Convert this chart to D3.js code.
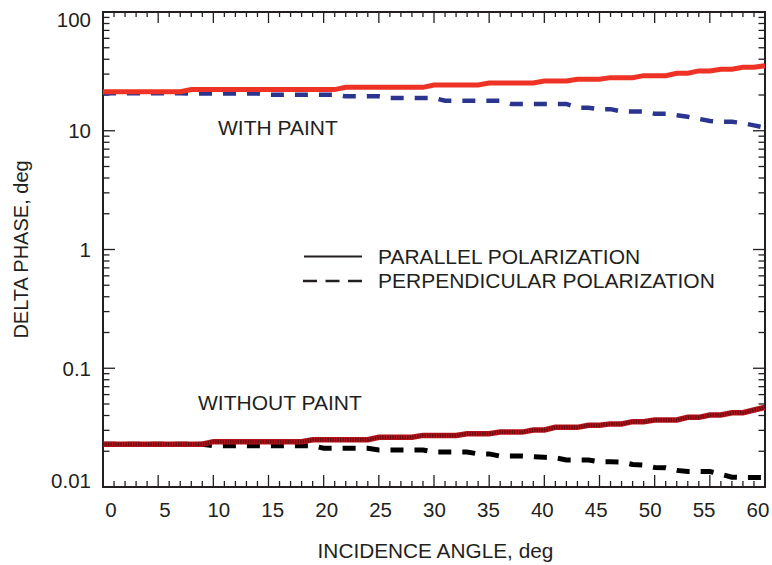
<!DOCTYPE html>
<html>
<head>
<meta charset="utf-8">
<script src="https://cdn.jsdelivr.net/npm/d3@7"></script>
<style>
  html, body { margin: 0; padding: 0; background: #fff; }
  svg { display: block; font-family: "Liberation Sans", Arial, Helvetica, sans-serif; }
</style>
</head>
<body>
<svg id="chart" width="772" height="565"></svg>
<script>
// ---------- data ----------
const angles = [0,1,2,3,4,5,6,7,8,9,10,11,12,13,14,15,16,17,18,19,20,21,22,23,24,25,26,27,28,29,30,
  31,32,33,34,35,36,37,38,39,40,41,42,43,44,45,46,47,48,49,50,51,52,53,54,55,56,57,58,59,60];

// WITH PAINT
const parallelPaint = [21.3,21.3,21.3,21.3,21.3,21.3,21.3,21.3,
  22.2,22.2,22.2,22.2,22.2,22.2,22.2,22.2,22.2,22.2,22.2,22.2,22.2,22.2,
  23.2,23.2,23.2,23.2,23.2,23.2,23.2,23.2,
  24.3,24.3,24.3,24.3,24.3,
  25.2,25.2,25.2,25.2,25.2,
  26.2,26.2,26.2,
  27.1,27.1,27.1,
  28.0,28.0,28.0,
  29.1,29.1,29.1,
  30.5,30.5,
  31.9,31.9,
  32.9,32.9,
  34.2,34.2,
  35.3];
const perpPaint = [20.7,20.7,20.7,20.7,20.7,20.7,20.7,20.7,20.6,20.6,20.6,20.6,20.6,20.6,20.6,
  20.1,20.1,20.1,20.1,20.1,20.1,20.1,
  19.5,19.5,19.5,19.5,
  18.9,18.9,18.9,18.9,18.9,
  17.9,17.9,17.9,17.9,17.9,17.9,
  16.8,16.8,16.8,16.8,16.8,16.8,
  15.6,15.6,
  15.2,15.2,
  14.5,14.5,14.5,
  13.9,13.9,
  13.5,13.1,12.6,12.1,11.9,11.9,11.6,11.1,10.6];

// WITHOUT PAINT
const parallelBare = [0.0229,0.0229,0.0229,0.0229,0.0229,0.0229,0.0229,0.0229,0.0229,0.0229,
  0.0241,0.0241,0.0241,0.0241,0.0241,0.0241,0.0241,0.0241,0.0241,
  0.0250,0.0250,0.0250,0.0250,0.0250,0.0250,
  0.0262,0.0262,0.0262,0.0262,
  0.0272,0.0272,0.0272,0.0272,
  0.0281,0.0281,0.0281,
  0.0290,0.0290,0.0290,
  0.0302,0.0302,
  0.0318,0.0318,0.0318,
  0.0331,0.0331,
  0.0340,0.0340,
  0.0355,0.0355,
  0.0367,0.0367,0.0367,
  0.0386,0.0386,
  0.0404,0.0404,
  0.0422,0.0422,
  0.0445,
  0.0469];
const perpBare = [0.0229,0.0229,0.0229,0.0229,0.0229,0.0229,0.0229,0.0229,0.0229,0.0229,
  0.0223,0.0223,0.0223,0.0223,0.0223,0.0223,0.0223,0.0223,0.0223,0.0223,
  0.0212,0.0212,0.0212,0.0212,0.0212,
  0.0205,0.0205,0.0205,0.0205,0.0205,
  0.0197,0.0197,0.0197,0.0197,
  0.0190,0.0190,
  0.0182,0.0182,0.0182,0.0180,
  0.0178,0.0176,0.0169,0.0169,0.0169,
  0.0163,0.0163,0.0162,0.0155,0.0153,
  0.0146,0.0145,0.0138,0.0135,0.0135,
  0.0135,0.0128,0.0121,0.0120,0.0120,0.0120];

const xTickLabels = [0,5,10,15,20,25,30,35,40,45,50,55,60];
const yTickLabels = [0.01, 0.1, 1, 10, 100];
const yTickText = ["0.01", "0.1", "1", "10", "100"];
const legendLabels = ["PARALLEL POLARIZATION", "PERPENDICULAR POLARIZATION"];
const groupLabels = ["WITH PAINT", "WITHOUT PAINT"];
const xTitle = "INCIDENCE ANGLE, deg";
const yTitle = "DELTA PHASE, deg";

// ---------- layout ----------
const ink = "#231f20";
const L = 103, R = 765, T = 12, B = 487;
const svg = d3.select("#chart");

const x = d3.scaleLinear().domain([0, 60]).range([L, R]);
const xLab = d3.scaleLinear().domain([0, 60]).range([111, 758]);
const y = d3.scaleLog().domain([0.01, 100]).range([B, T]);

// ---------- ticks ----------
const tickG = svg.append("g").attr("stroke", ink).attr("stroke-width", 1.3);
const xMinor = d3.range(0, 61);
xMinor.forEach(v => {
  const major = v % 5 === 0;
  const px = x(v);
  tickG.append("line").attr("x1", px).attr("x2", px).attr("y1", B).attr("y2", B - (major ? 12 : 6));
  tickG.append("line").attr("x1", px).attr("x2", px).attr("y1", T).attr("y2", T + (major ? 11 : 5));
});
const yTicksAll = [];
[0.01, 0.1, 1, 10].forEach(d => { for (let k = 1; k <= 9; k++) yTicksAll.push(d * k); });
yTicksAll.push(100);
yTicksAll.forEach(v => {
  const major = Math.abs(Math.log10(v) - Math.round(Math.log10(v))) < 1e-9;
  const py = y(v);
  tickG.append("line").attr("x1", L).attr("x2", L + (major ? 12 : 6.5)).attr("y1", py).attr("y2", py);
  tickG.append("line").attr("x1", R).attr("x2", R - (major ? 12 : 6.5)).attr("y1", py).attr("y2", py);
});

// frame
svg.append("rect").attr("x", L).attr("y", T).attr("width", R - L).attr("height", B - T)
  .attr("fill", "none").attr("stroke", ink).attr("stroke-width", 2);

// tick labels
svg.append("g").selectAll("text").data(xTickLabels).join("text")
  .attr("x", d => xLab(d)).attr("y", 517)
  .attr("text-anchor", "middle").attr("font-size", 20.5).attr("fill", ink)
  .text(d => d);
svg.append("g").selectAll("text").data(yTickLabels).join("text")
  .attr("x", 91)
  .attr("y", (d, i) => {
    let py = y(d);
    if (d === 100) py += 7.5;
    if (d === 0.01) py -= 6.5;
    return py + 7.3;
  })
  .attr("text-anchor", "end").attr("font-size", 20.5).attr("fill", ink)
  .text((d, i) => yTickText[i]);

// axis titles
svg.append("text").attr("x", 435.5).attr("y", 558)
  .attr("text-anchor", "middle").attr("font-size", 20.8).attr("fill", ink).text(xTitle);
svg.append("text").attr("transform", `translate(28,${(T + B) / 2}) rotate(-90)`)
  .attr("text-anchor", "middle").attr("font-size", 20).attr("fill", ink).text(yTitle);

// ---------- lines ----------
const line = vals => d3.line().x((d, i) => x(angles[i])).y(d => y(d))(vals);

svg.append("path").attr("d", line(perpPaint)).attr("fill", "none")
  .attr("stroke", "#2b3590").attr("stroke-width", 4.5).attr("stroke-dasharray", "13,11");
svg.append("path").attr("d", line(parallelPaint)).attr("fill", "none")
  .attr("stroke", "#ee3326").attr("stroke-width", 5);

svg.append("path").attr("d", line(perpBare)).attr("fill", "none")
  .attr("stroke", "#000").attr("stroke-width", 5).attr("stroke-dasharray", "13,11");
svg.append("path").attr("d", line(parallelBare)).attr("fill", "none")
  .attr("stroke", "#b3121b").attr("stroke-width", 5.5);
svg.append("path").attr("d", line(parallelBare)).attr("fill", "none")
  .attr("stroke", "#2a0304").attr("stroke-width", 3.5).attr("stroke-opacity", 0.55)
  .attr("stroke-dasharray", "1.2,1.3");

// group labels
svg.append("text").attr("x", 218).attr("y", 135).attr("font-size", 21).attr("fill", ink).text(groupLabels[0]);
svg.append("text").attr("x", 198).attr("y", 410).attr("font-size", 21).attr("fill", ink).text(groupLabels[1]);

// legend
const lg = svg.append("g");
lg.append("line").attr("x1", 304).attr("x2", 362).attr("y1", 256.5).attr("y2", 256.5)
  .attr("stroke", ink).attr("stroke-width", 2.2);
lg.append("line").attr("x1", 303).attr("x2", 362).attr("y1", 281).attr("y2", 281)
  .attr("stroke", ink).attr("stroke-width", 2.4).attr("stroke-dasharray", "14,8.5");
lg.append("text").attr("x", 378).attr("y", 263.5).attr("font-size", 21).attr("fill", ink).text(legendLabels[0]);
lg.append("text").attr("x", 378).attr("y", 288).attr("font-size", 21).attr("fill", ink).text(legendLabels[1]);
</script>
</body>
</html>
